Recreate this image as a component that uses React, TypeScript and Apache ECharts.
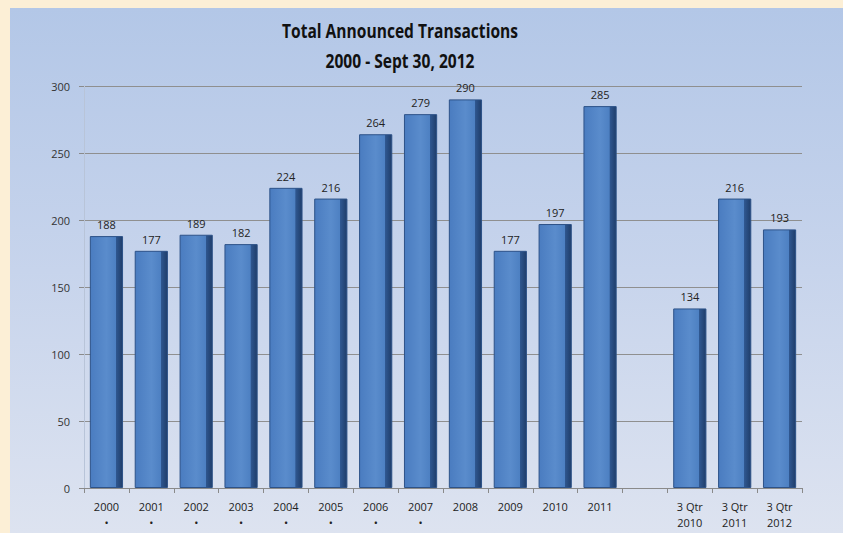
import React, { useEffect, useRef } from "react";
import * as echarts from "echarts";

const categories = ["2000\n•", "2001\n•", "2002\n•", "2003\n•", "2004\n•", "2005\n•", "2006\n•", "2007\n•", "2008", "2009", "2010", "2011", "", "3 Qtr\n2010", "3 Qtr\n2011", "3 Qtr\n2012"];
const transactions: (number | null)[] = [188, 177, 189, 182, 224, 216, 264, 279, 290, 177, 197, 285, null, 134, 216, 193];
const titleLines = ["Total Announced Transactions", "2000 - Sept 30, 2012"];
const yTicks = { min: 0, max: 300, interval: 50 };

const FONT = "'Open Sans', sans-serif";

export default function App() {
  const ref = useRef<HTMLDivElement>(null);
  useEffect(() => {
    if (!ref.current) return;
    const chart = echarts.init(ref.current, undefined, { renderer: "svg" });
    const barGrad = new echarts.graphic.LinearGradient(0, 0, 1, 0, [
      { offset: 0, color: "#4a7cc0" },
      { offset: 0.5, color: "#5a8ccc" },
      { offset: 0.79, color: "#4d80c2" },
      { offset: 0.8, color: "#2f5790" },
      { offset: 1, color: "#1f3d6a" },
    ]);
    chart.setOption({
      animation: false,
      backgroundColor: "transparent",
      graphic: [
        {
          type: "rect",
          z: -10,
          silent: true,
          shape: { x: 10, y: 8, width: 833, height: 525 },
          style: {
            fill: new echarts.graphic.LinearGradient(0, 0, 0, 1, [
              { offset: 0, color: "#b3c7e7" },
              { offset: 0.5, color: "#c7d4ec" },
              { offset: 1, color: "#dde3f0" },
            ]),
          },
        },
        {
          type: "text",
          x: 400,
          y: 30,
          scaleX: 0.82,
          style: {
            text: titleLines[0],
            x: 0,
            y: 0,
            align: "center",
            verticalAlign: "middle",
            font: "bold 19px " + FONT,
            fill: "#111",
          },
        },
        {
          type: "text",
          x: 400,
          y: 60,
          scaleX: 0.82,
          style: {
            text: titleLines[1],
            x: 0,
            y: 0,
            align: "center",
            verticalAlign: "middle",
            font: "bold 19px " + FONT,
            fill: "#111",
          },
        },
      ],
      grid: { left: 84, right: 41, top: 86, bottom: 45 },
      xAxis: {
        type: "category",
        data: categories,
        axisLine: { lineStyle: { color: "#8a8a8a", width: 1 } },
        axisTick: { show: true, length: 5, lineStyle: { color: "#8a8a8a" } },
        axisLabel: {
          color: "#222",
          fontSize: 11,
          lineHeight: 16,
          margin: 10,
          interval: 0,
          fontFamily: FONT,
        },
      },
      yAxis: {
        type: "value",
        min: yTicks.min,
        max: yTicks.max,
        interval: yTicks.interval,
        axisLine: { show: true, lineStyle: { color: "#b8c4d8" } },
        axisTick: { show: true, length: 5, lineStyle: { color: "#8a8a8a" } },
        axisLabel: {
          color: "#333",
          fontSize: 11,
          margin: 14,
          fontFamily: FONT,
        },
        splitLine: { lineStyle: { color: "#8f8f8f", width: 1.2 } },
      },
      series: [
        {
          type: "bar",
          data: transactions,
          barWidth: "74%",
          itemStyle: { color: barGrad, borderColor: "#2d5288", borderWidth: 1 },
          label: {
            show: true,
            position: "top",
            distance: 6,
            color: "#222",
            fontSize: 11,
            fontFamily: FONT,
          },
        },
      ],
    });
    return () => chart.dispose();
  }, []);
  return (
    <div style={{ position: "fixed", left: 0, top: 0, width: 843, height: 533, background: "#fcefd6" }}>
      <div ref={ref} style={{ width: 843, height: 533 }} />
    </div>
  );
}
